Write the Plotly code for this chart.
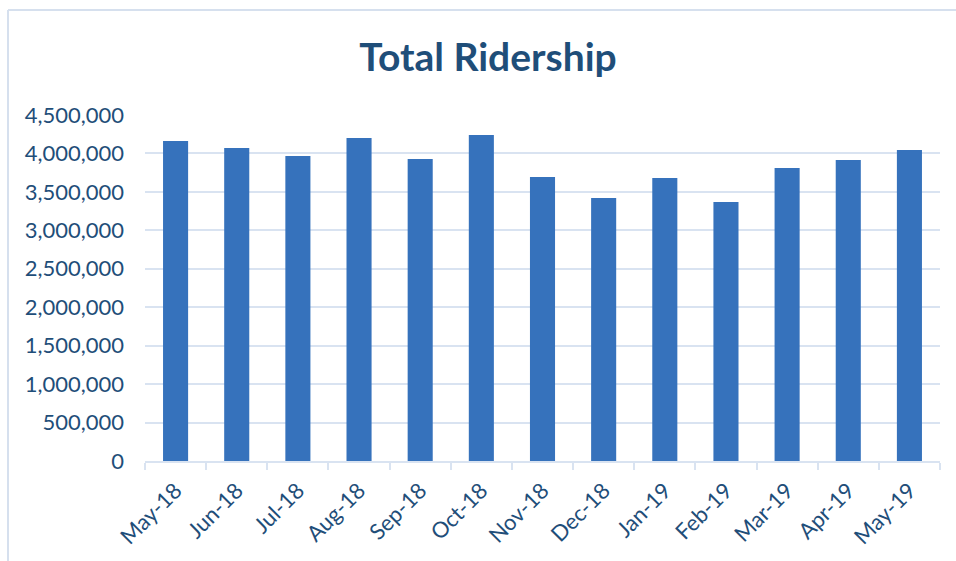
import plotly.graph_objects as go

months = ["May-18", "Jun-18", "Jul-18", "Aug-18", "Sep-18", "Oct-18", "Nov-18",
          "Dec-18", "Jan-19", "Feb-19", "Mar-19", "Apr-19", "May-19"]
ridership = [4162000, 4071000, 3967000, 4201000, 3928000, 4240000, 3694000,
             3421000, 3681000, 3369000, 3811000, 3915000, 4045000]
y_ticks = [0, 500000, 1000000, 1500000, 2000000, 2500000, 3000000, 3500000, 4000000, 4500000]
y_tick_labels = ["0", "500,000", "1,000,000", "1,500,000", "2,000,000", "2,500,000",
                 "3,000,000", "3,500,000", "4,000,000", "4,500,000"]

TEXT = "#1f4e79"
GRID = "#d9e3f1"
FONT = "Lato, Open Sans, sans-serif"

fig = go.Figure(go.Bar(
    x=months, y=ridership,
    marker=dict(color="#3672bc", line=dict(width=0)),
))

W, H = 956, 561
L, R, T, B = 145, 16, 115, 100
pw, ph = W - L - R, H - T - B

def px(x):
    return (x - L) / pw

def py(y):
    return (H - B - y) / ph

fig.update_layout(
    width=W, height=H,
    margin=dict(l=L, r=R, t=T, b=B),
    paper_bgcolor="white", plot_bgcolor="white",
    bargap=0.59,
    showlegend=False,
    title=dict(text="<b>Total Ridership</b>", x=px(488), xref="paper", xanchor="center",
               y=1 - 57 / H, yref="container", yanchor="middle",
               font=dict(family=FONT, size=39, color=TEXT)),
    font=dict(family=FONT, color=TEXT, size=21),
    xaxis=dict(showgrid=False, showline=True, linecolor=GRID, linewidth=2,
               ticks="outside", tickson="boundaries", ticklen=7, tickcolor=GRID, tickwidth=2,
               tickangle=-45, ticklabelstandoff=6, tickfont=dict(family=FONT, size=22, color=TEXT)),
    yaxis=dict(range=[0, 4500000], tickvals=y_ticks, ticktext=y_tick_labels,
               showgrid=True, gridcolor=GRID, gridwidth=2, zeroline=False,
               showline=False, ticks="", ticklabelstandoff=20,
               tickfont=dict(family=FONT, size=22, color=TEXT)),
    shapes=[
        dict(type="line", xref="paper", yref="paper", x0=px(8), x1=px(8), y0=py(570), y1=py(10),
             line=dict(color="#d6e0ee", width=2)),
        dict(type="line", xref="paper", yref="paper", x0=px(8), x1=px(970), y0=py(10), y1=py(10),
             line=dict(color="#d6e0ee", width=2)),
    ],
)

fig.write_html("out.html", config={"displayModeBar": False},
               post_script="document.body.style.margin='0';document.body.style.overflow='hidden';")
